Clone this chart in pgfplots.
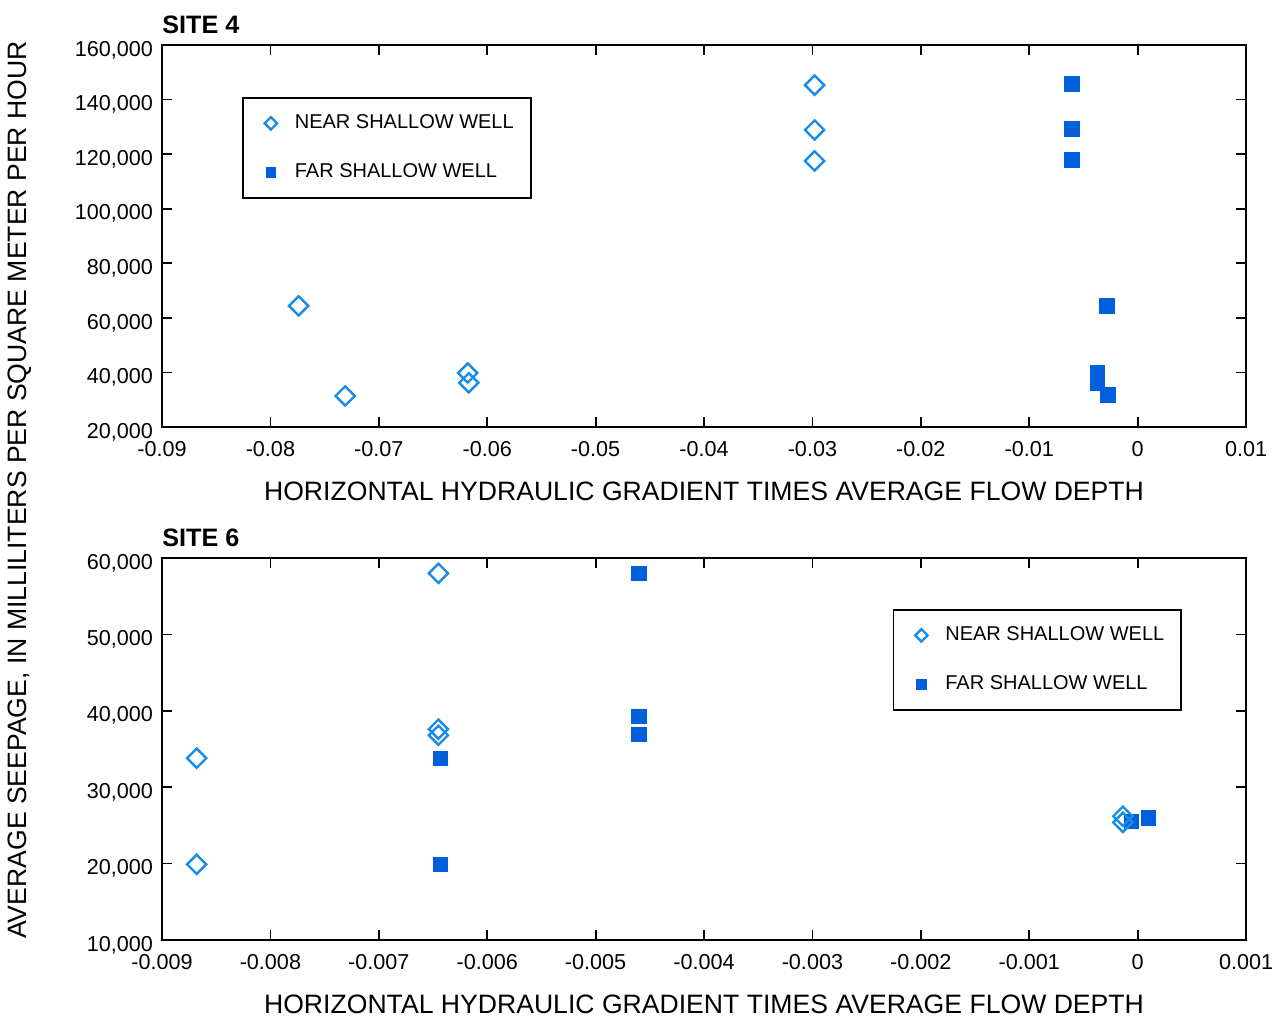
\documentclass[border=0pt]{standalone}
\usepackage{pgfplots}
\pgfplotsset{compat=1.18}
\usepackage{fontspec}
\setmainfont{Liberation Sans}

\definecolor{nearblue}{RGB}{25,140,230}
\definecolor{farblue}{RGB}{0,95,220}

\pgfplotsset{
  siteaxis/.style={
    scale only axis,
    width=542pt,
    height=191pt,
    axis line style={line width=1pt},
    tick style={line width=0.9pt, black},
    major tick length=5pt,
    tick align=inside,
    scaled x ticks=false,
    scaled y ticks=false,
    /pgf/number format/assume math mode=true,
    ticklabel style={font=\fontsize{10.8}{12}\selectfont},
    xticklabel style={/pgf/number format/fixed, /pgf/number format/precision=3,
      yshift=-3.5pt},
    yticklabel style={/pgf/number format/fixed, /pgf/number format/1000 sep={,},
      yshift=-2.5pt, xshift=-1pt},
    xlabel={HORIZONTAL HYDRAULIC GRADIENT TIMES AVERAGE FLOW DEPTH},
    xlabel style={font=\fontsize{13.3}{15}\selectfont, yshift=-6pt},
    title style={at={(0,1)}, anchor=south west, inner xsep=0pt, yshift=-4pt,
      font=\bfseries\fontsize{12.6}{15}\selectfont},
    legend style={anchor=north west, draw=black, line width=0.9pt,
      font=\fontsize{10}{12}\selectfont, inner xsep=7.5pt, inner ysep=7.5pt,
      nodes={inner sep=1pt}, row sep=14pt, column sep=4.5pt},
    legend cell align=left,
    reverse legend,
    legend image code/.code={
      \path (0pt,0pt) (12pt,0pt);
      \draw[##1, mark size=2.2pt] plot coordinates {(6pt,0pt)};
    },
  },
  nearwell/.style={only marks, mark=square, mark size=3.4pt,
    mark options={rotate=45, draw=nearblue, line width=1.2pt}},
  farwell/.style={only marks, mark=square*, mark size=3.6pt,
    mark options={draw=farblue, fill=farblue}},
}

\begin{document}
\begin{tikzpicture}
\useasboundingbox (0,0) rectangle (642pt,-510.5pt);

% site 4
\begin{axis}[
  siteaxis,
  at={(81pt,-22.5pt)}, anchor=north west,
  title={SITE 4},
  xmin=-0.09, xmax=0.01,
  xtick={-0.09,-0.08,-0.07,-0.06,-0.05,-0.04,-0.03,-0.02,-0.01,0,0.01},
  ymin=20000, ymax=160000,
  ytick={20000,40000,60000,80000,100000,120000,140000,160000},
  legend style={at={(0.0739,0.864)}},
]
\addplot[farwell] coordinates {
  (-0.00607,145700) (-0.00607,129200) (-0.00607,117900)
  (-0.00283,64400) (-0.0037,39800) (-0.0037,36200) (-0.00274,31750)
};
\addlegendentry{FAR SHALLOW WELL}
\addplot[nearwell] coordinates {
  (-0.0774,64400) (-0.0731,31400) (-0.0618,39800) (-0.0617,36200)
  (-0.0298,145300) (-0.0298,128850) (-0.0298,117500)
};
\addlegendentry{NEAR SHALLOW WELL}
\end{axis}

% site 6
\begin{axis}[
  siteaxis,
  at={(81pt,-279pt)}, anchor=north west,
  title={SITE 6},
  xmin=-0.009, xmax=0.001,
  xtick={-0.009,-0.008,-0.007,-0.006,-0.005,-0.004,-0.003,-0.002,-0.001,0,0.001},
  ymin=10000, ymax=60000,
  ytick={10000,20000,30000,40000,50000,60000},
  legend style={at={(0.674,0.8665)}},
]
\addplot[farwell] coordinates {
  (-0.00643,33800) (-0.00643,19900)
  (-0.0046,58000) (-0.0046,39300) (-0.0046,36900)
  (-0.00006,25500) (0.0001,26000)
};
\addlegendentry{FAR SHALLOW WELL}
\addplot[nearwell] coordinates {
  (-0.00868,33800) (-0.00868,19900)
  (-0.00645,58000) (-0.00645,37600) (-0.00645,36800)
  (-0.000136,26200) (-0.000136,25400)
};
\addlegendentry{NEAR SHALLOW WELL}
\end{axis}

\node[rotate=90, font=\fontsize{13.3}{15}\selectfont] at (10pt,-245pt)
  {AVERAGE SEEPAGE, IN MILLILITERS PER SQUARE METER PER HOUR};
\end{tikzpicture}
\end{document}
